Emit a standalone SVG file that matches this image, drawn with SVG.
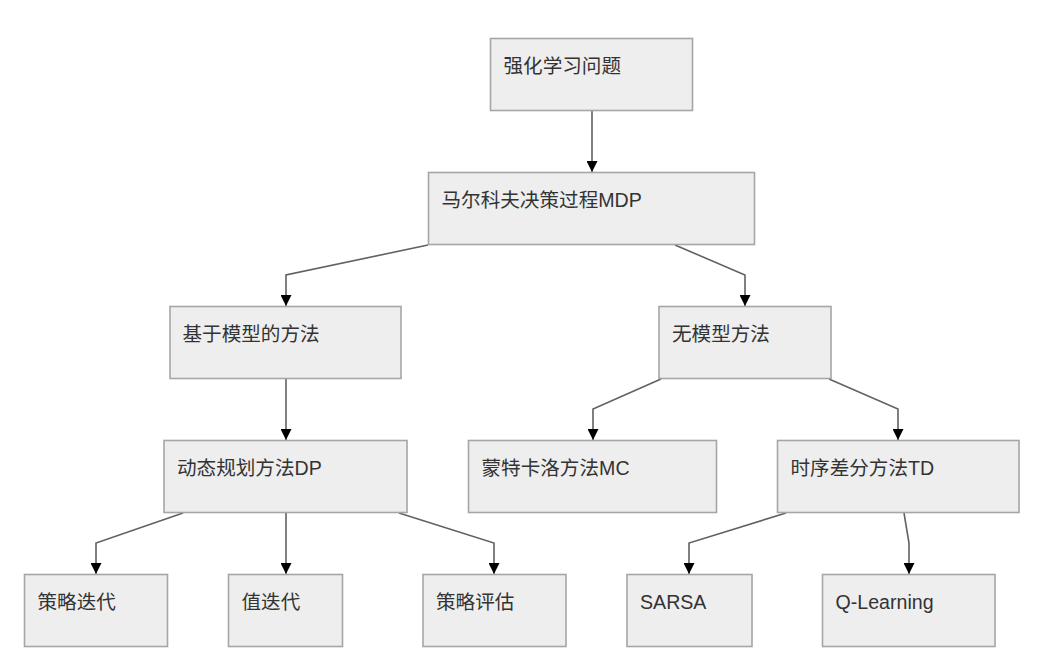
<svg xmlns="http://www.w3.org/2000/svg" width="1059" height="663" viewBox="0 0 1059 663">
<style>
.n rect{fill:#eeeeee;stroke:#a6a6a6;stroke-width:1.6}
.n text{font-family:"Liberation Sans","Noto Sans CJK SC",sans-serif;font-size:19.6px;fill:#333333}
.c path{fill:none;stroke:#616161;stroke-width:1.6;marker-end:url(#ah)}
</style>
<defs>
<marker id="ah" markerUnits="userSpaceOnUse" markerWidth="11" markerHeight="11" refX="10.5" refY="5.25" orient="auto" viewBox="0 0 10.5 10.5">
<path d="M0,0 L10.5,5.25 L0,10.5 z" fill="#000000"/>
</marker>
</defs>
<rect width="1059" height="663" fill="#ffffff"/>
<g id="connectors" class="c">
<path d="M592,111 L592,172"/>
<path d="M428,245 L286,275 L286,306"/>
<path d="M675,245 L745,275 L745,306"/>
<path d="M286,379 L286,440"/>
<path d="M661,379 L593,409 L593,440"/>
<path d="M829,379 L898,409 L898,440"/>
<path d="M183,513 L96,543 L96,574"/>
<path d="M286,513 L286,574"/>
<path d="M399,513 L494,543 L494,574"/>
<path d="M786,513 L689,543 L689,574"/>
<path d="M904,513 L909,543 L909,574"/>
</g>
<g id="n1" class="n"><rect x="490.5" y="38.5" width="202" height="72"/><text x="503.5" y="73">强化学习问题</text></g>
<g id="n2" class="n"><rect x="428.5" y="172.5" width="326" height="72"/><text x="441.5" y="207">马尔科夫决策过程MDP</text></g>
<g id="n3" class="n"><rect x="170" y="306.5" width="231" height="72"/><text x="182.5" y="341">基于模型的方法</text></g>
<g id="n4" class="n"><rect x="659" y="306.5" width="172" height="72"/><text x="672" y="341">无模型方法</text></g>
<g id="n5" class="n"><rect x="164" y="440.5" width="243" height="72"/><text x="177" y="475">动态规划方法DP</text></g>
<g id="n6" class="n"><rect x="468.5" y="440.5" width="248" height="72"/><text x="481.5" y="475">蒙特卡洛方法MC</text></g>
<g id="n7" class="n"><rect x="777.5" y="440.5" width="241.5" height="72"/><text x="790.5" y="475">时序差分方法TD</text></g>
<g id="n8" class="n"><rect x="24.5" y="574.5" width="143" height="72"/><text x="37.5" y="609">策略迭代</text></g>
<g id="n9" class="n"><rect x="228.5" y="574.5" width="114" height="72"/><text x="241.5" y="609">值迭代</text></g>
<g id="n10" class="n"><rect x="423" y="574.5" width="143" height="72"/><text x="436" y="609">策略评估</text></g>
<g id="n11" class="n"><rect x="627" y="574.5" width="125" height="72"/><text x="640" y="609">SARSA</text></g>
<g id="n12" class="n"><rect x="822.5" y="574.5" width="172.5" height="72"/><text x="835.5" y="609">Q-Learning</text></g>
</svg>
